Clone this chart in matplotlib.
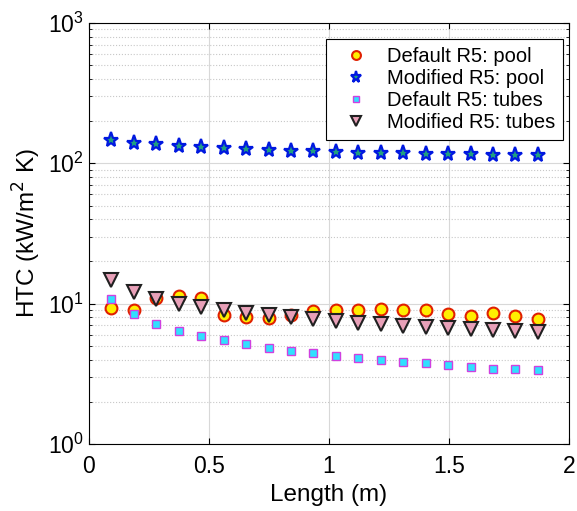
import matplotlib.pyplot as plt
import numpy as np

plt.rcParams['font.family'] = ['Liberation Sans', 'DejaVu Sans']

# Distancia ao longo do comprimento (m)
length = [0.0935, 0.187, 0.2805, 0.374, 0.4675, 0.561, 0.6545, 0.748, 0.8415, 0.935,
          1.0285, 1.122, 1.2155, 1.309, 1.4025, 1.496, 1.5895, 1.683, 1.7765, 1.87]

# HTC (kW/m2 K) para cada serie
default_pool = [9.26, 9.06, 11.0, 11.35, 10.9, 8.25, 8.08, 7.94, 8.3, 8.87,
                8.96, 9.0, 9.17, 9.06, 9.06, 8.48, 8.11, 8.53, 8.17, 7.82]
modified_pool = [147.7, 140.6, 136.7, 133.8, 130.7, 128.6, 125.9, 125.3, 123.2, 121.8,
                 120.4, 119.2, 118.5, 117.9, 117.3, 116.6, 116.0, 115.4, 114.7, 114.7]
default_tubes = [10.8, 8.39, 7.11, 6.41, 5.84, 5.47, 5.12, 4.83, 4.62, 4.42,
                 4.23, 4.09, 3.98, 3.85, 3.75, 3.63, 3.53, 3.45, 3.40, 3.34]
modified_tubes = [14.7, 12.2, 10.8, 10.0, 9.47, 9.0, 8.58, 8.3, 8.04, 7.77,
                  7.52, 7.32, 7.11, 6.96, 6.85, 6.7, 6.56, 6.45, 6.35, 6.24]

fig = plt.figure(figsize=(5.77, 5.11), dpi=100)
ax = fig.add_axes([0.1542, 0.1311, 0.832, 0.824])

ax.semilogy(length, default_pool, "o", ms=8.5, mfc="#ffee00", mec="#e02000", mew=1.5,
            label="Default R5: pool")
ax.semilogy(length, modified_pool, "*", ms=11, mfc="#20a080", mec="#0018e0", mew=1.6,
            label="Modified R5: pool")
ax.semilogy(length, default_tubes, "s", ms=6, mfc="#30e0ff", mec="#d040e0", mew=1.0,
            label="Default R5: tubes")
ax.semilogy(length, modified_tubes, "v", ms=10, mfc="#e8a0b8", mec="#202020", mew=1.5,
            label="Modified R5: tubes")

ax.set_xlim(0, 2)
ax.set_ylim(1, 1000)
ax.set_xticks([0, 0.5, 1, 1.5, 2])
ax.set_xticklabels(["0", "0.5", "1", "1.5", "2"])
ax.grid(True, which="major", color="#d8d8d8", lw=0.8)
ax.grid(True, which="minor", axis="y", color="#c8c8c8", ls=":", lw=0.8)
ax.tick_params(which="both", direction="in", top=True, right=True, labelsize=16.5)
ax.tick_params(axis="x", pad=8)
ax.tick_params(which="minor", length=2.5)
ax.tick_params(which="major", length=4)
ax.set_axisbelow(True)
for s in ax.spines.values():
    s.set_linewidth(0.8)

ax.set_xlabel("Length (m)", fontsize=17.5, labelpad=4)
ax.set_ylabel("HTC (kW/m$^2$ K)", fontsize=17.5)

leg = ax.legend(loc="upper right", fontsize=14.5, fancybox=False, framealpha=1,
                edgecolor="black", borderpad=0.4, handletextpad=0.5, labelspacing=0.15,
                markerscale=0.75, handlelength=2.1, borderaxespad=0,
                bbox_to_anchor=(0.9875, 0.962))
leg.get_frame().set_linewidth(0.8)

fig.savefig("out.png", dpi=100)
